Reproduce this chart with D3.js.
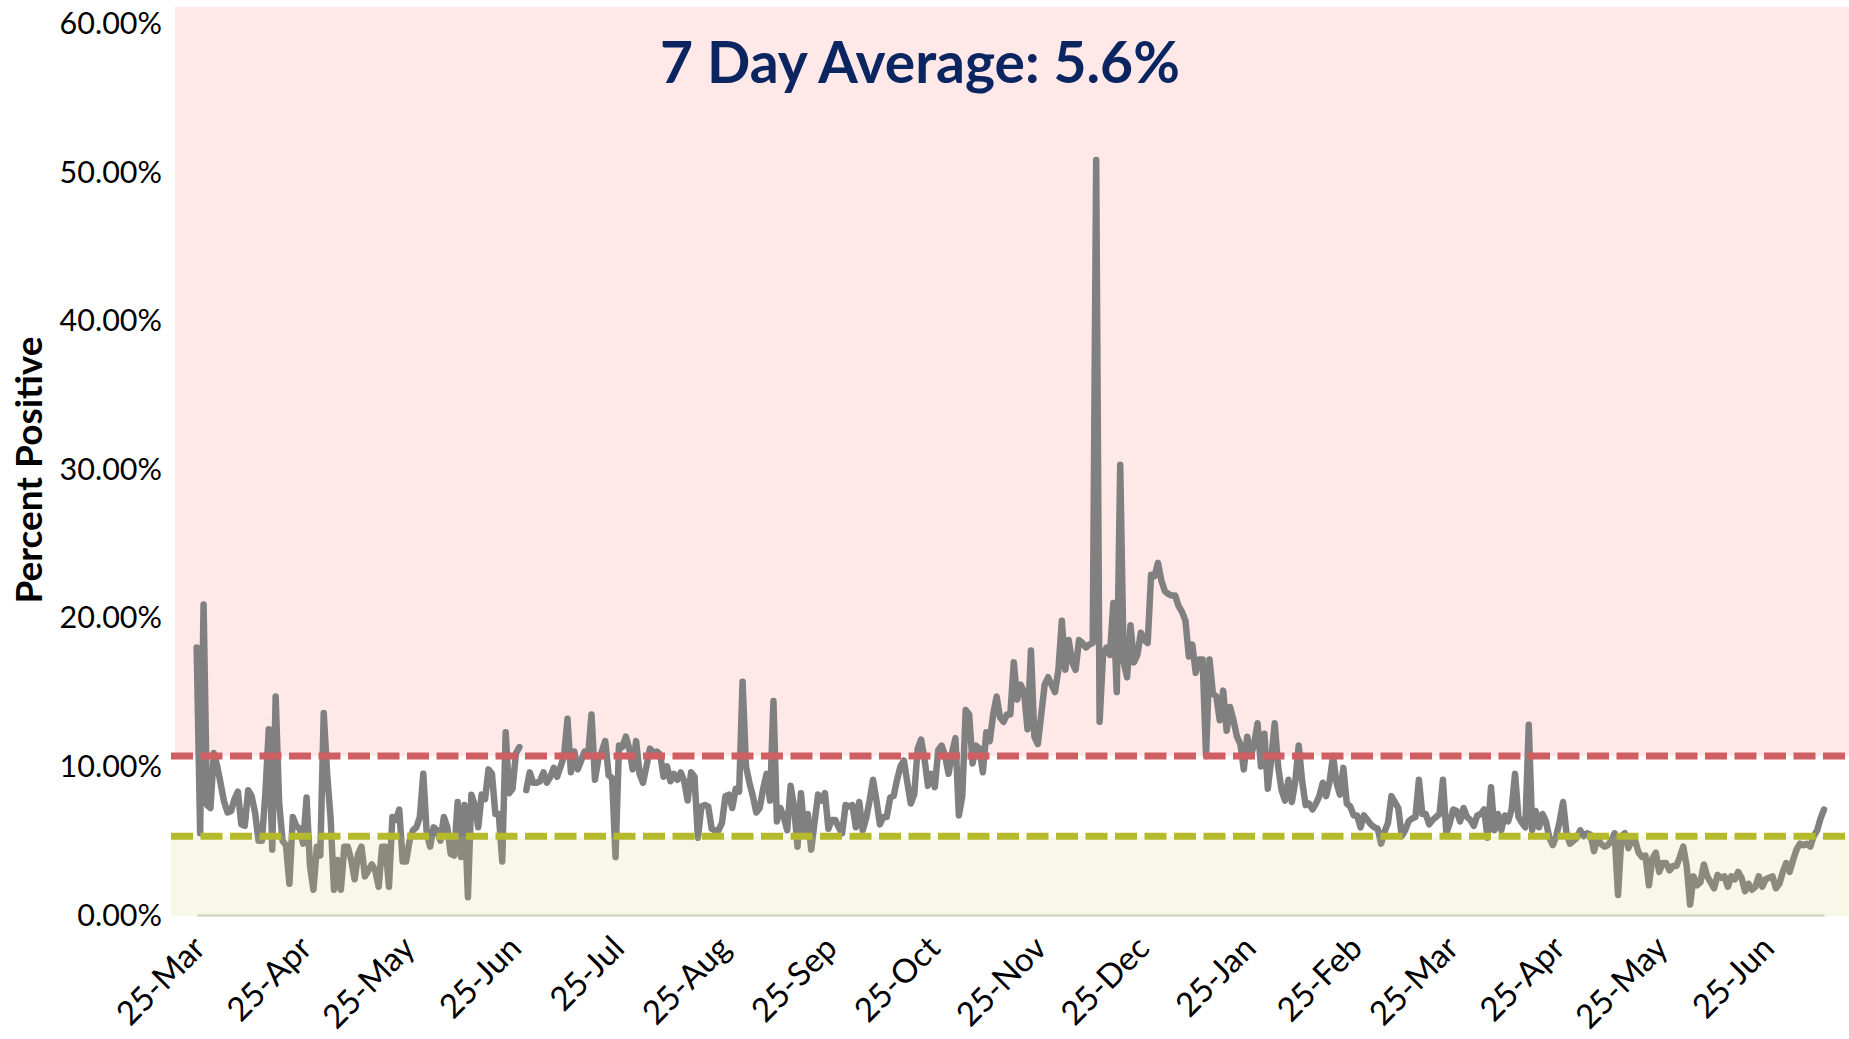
<!DOCTYPE html>
<html>
<head>
<meta charset="utf-8">
<script src="https://cdn.jsdelivr.net/npm/d3@7"></script>
<style>
  body { margin: 0; background: #fff; }
  svg { display: block; }
  text { font-family: Lato, "Open Sans", sans-serif; }
</style>
</head>
<body>
<div id="chart"></div>
<script>
// Chart values
const titleText = "7 Day Average: 5.6%";
const yTicks = [0, 10, 20, 30, 40, 50, 60];
const upperLimit = 10.7;   // red dashed line
const lowerLimit = 5.3;    // green dashed line
const alertTop = 61.1;     // top of pink band
const goodBottom = -0.1;   // bottom of green band
const tickDates = ["2020-03-25", "2020-04-25", "2020-05-25", "2020-06-25", "2020-07-25",
    "2020-08-25", "2020-09-25", "2020-10-25", "2020-11-25", "2020-12-25", "2021-01-25",
    "2021-02-25", "2021-03-25", "2021-04-25", "2021-05-25", "2021-06-25"];
const firstDay = "2020-03-25";

// daily percent positive, 25 Mar 2020 - 31 Dec 2020 (null = no report)
const rate2020 = [
    18.0, 5.5, 20.9, 7.4, 7.2, 10.9, 10.0, 8.8, 7.6, 6.9,
    7.0, 7.8, 8.3, 6.1, 6.0, 8.4, 8.0, 6.9, 5.0, 5.0,
    8.2, 12.5, 4.4, 14.7, 7.6, 5.0, 4.7, 2.1, 6.6, 6.0,
    5.8, 4.8, 7.9, 3.3, 1.7, 4.6, 4.0, 13.6, 9.5, 6.5,
    1.7, 3.7, 1.7, 4.6, 4.6, 3.7, 2.4, 4.1, 4.6, 2.6,
    3.0, 3.4, 3.0, 1.9, 4.6, 4.6, 1.9, 6.6, 6.4, 7.1,
    3.6, 3.6, 5.0, 5.7, 5.9, 6.6, 9.5, 5.5, 4.6, 5.9,
    5.7, 5.0, 6.6, 5.9, 4.1, 4.0, 7.6, 3.9, 7.4, 1.2,
    8.1, 7.4, 5.9, 8.1, 7.8, 9.8, 9.5, 6.8, 6.8, 3.6,
    12.3, 8.2, 8.5, 10.9, 11.3, null, 8.4, 9.6, 8.9, 8.9,
    9.0, 9.6, 8.9, 9.3, 9.9, 9.3, 10.0, 10.7, 13.2, 9.6,
    11.0, 9.8, 10.4, 11.0, 10.7, 13.5, 9.1, 10.5, 11.0, 11.7,
    9.4, 9.2, 3.9, 11.4, 11.3, 12.0, 11.2, 9.8, 11.7, 9.5,
    8.9, 10.0, 11.2, 10.9, 11.0, 10.8, 9.3, 10.0, 9.0, 9.5,
    9.1, 9.6, 9.0, 7.7, 9.6, 9.3, 5.2, 7.3, 7.4, 7.3,
    5.8, 5.7, 5.7, 6.2, 8.0, 8.1, 7.2, 8.5, 8.3, 15.7,
    10.0, 8.9, 8.0, 6.9, 7.2, 8.5, 9.5, 7.7, 14.4, 6.3,
    7.2, 6.6, 5.7, 8.7, 7.3, 4.6, 8.2, 5.7, 6.8, 4.4,
    6.3, 8.1, 7.7, 8.2, 5.8, 6.4, 6.4, 5.9, 5.5, 7.4,
    7.3, 7.4, 5.9, 7.6, 5.7, 6.5, 7.7, 9.1, 7.7, 6.1,
    6.6, 6.6, 7.9, 8.0, 9.1, 10.0, 10.4, 8.9, 7.5, 8.1,
    11.2, 11.8, 10.5, 8.7, 9.5, 8.6, 11.1, 11.4, 10.7, 9.5,
    10.9, 11.9, 6.7, 8.0, 13.8, 13.5, 10.2, 11.4, 11.2, 9.6,
    12.3, 11.7, 13.5, 14.7, 13.3, 13.0, 13.5, 13.5, 17.0, 14.5,
    15.5, 15.0, 12.5, 17.8, 12.0, 11.5, 13.5, 15.5, 16.0, 15.5,
    15.0, 16.5, 19.8, 16.5, 18.5, 17.0, 16.5, 18.5, 18.3, 18.0,
    18.2, 18.3, 50.8, 13.0, 17.5, 18.0, 17.5, 21.0, 15.0, 30.3,
    17.0, 16.0, 19.5, 17.0, 17.5, 19.0, 18.5, 18.3, 22.9, 22.8,
    23.7, 22.5
];

// daily percent positive, 1 Jan 2021 - 12 Jul 2021
const rate2021 = [
    21.8, 21.6, 21.5, 21.5, 20.8, 20.4, 19.8, 17.4,
    18.2, 16.3, 17.2, 17.2, 10.7, 17.2, 14.9, 14.7, 13.1, 15.1,
    12.4, 14.0, 13.1, 12.0, 11.5, 9.8, 12.0, 10.7, 11.5, 12.9,
    10.0, 12.2, 8.5, 10.5, 12.9, 10.0, 8.4, 7.7, 9.1, 7.6,
    9.0, 11.4, 9.0, 7.4, 7.5, 7.1, 7.5, 8.0, 8.9, 8.0,
    9.0, 10.7, 8.9, 8.1, 9.9, 7.5, 7.3, 6.7, 6.7, 5.9,
    6.7, 6.4, 6.1, 5.9, 5.8, 4.8, 5.6, 6.2, 8.0, 7.6,
    7.2, 5.3, 5.7, 6.3, 6.5, 6.6, 9.1, 6.8, 6.8, 6.1,
    6.4, 6.6, 6.8, 9.1, 5.5, 6.2, 7.1, 7.0, 6.3, 7.2,
    6.6, 6.4, 6.0, 6.7, 6.8, 7.1, 5.2, 8.6, 5.7, 6.8,
    5.7, 6.7, 6.3, 7.1, 9.5, 6.6, 6.2, 5.9, 12.8, 5.7,
    7.0, 5.9, 6.8, 6.3, 5.2, 4.7, 5.3, 6.3, 7.6, 5.5,
    4.8, 5.0, 5.2, 5.7, 5.3, 5.5, 5.4, 4.3, 5.2, 4.8,
    4.6, 4.7, 5.0, 5.5, 1.35, 5.3, 5.5, 4.5, 5.0, 5.0,
    4.2, 3.9, 4.0, 2.0, 3.8, 4.2, 2.9, 3.5, 3.5, 3.0,
    3.3, 3.3, 3.9, 4.6, 3.3, 0.7, 2.6, 2.0, 2.2, 3.4,
    2.6, 2.2, 1.8, 2.7, 2.5, 2.6, 1.9, 2.6, 2.4, 2.9,
    2.5, 1.6, 2.1, 1.7, 1.9, 2.6, 1.9, 2.4, 2.5, 2.6,
    1.8, 2.1, 2.9, 3.5, 2.9, 3.7, 4.4, 4.8, 4.7, 4.8,
    4.6, 5.3, 5.7, 6.5, 7.1
];

const width = 1849;
const height = 1039;
const plotLeft = 171;      // where the bands and dashed lines begin
const lineLeft = 196.7;    // first day
const lineRight = 1824;    // last day

const parseDay = d3.timeParse("%Y-%m-%d");
const start = parseDay(firstDay);

// Build the daily series
const series = rate2020.concat(rate2021).map((v, i) => ({
    date: d3.timeDay.offset(start, i),
    value: v
}));

const x = d3.scaleTime()
    .domain(d3.extent(series, d => d.date))
    .range([lineLeft, lineRight]);

const y = d3.scaleLinear()
    .domain([0, 60])
    .range([915, 23.4]);

const svg = d3.select("#chart").append("svg")
    .attr("width", width)
    .attr("height", height)
    .attr("viewBox", [0, 0, width, height]);

// Pink "above limit" band (under the line)
svg.append("rect")
    .attr("x", 175)
    .attr("y", y(alertTop))
    .attr("width", width - 175)
    .attr("height", y(upperLimit) - y(alertTop))
    .attr("fill", "#ffe8e8");

// X axis line
const xAxis = d3.axisBottom(x)
    .tickValues(tickDates.map(parseDay))
    .tickFormat(d3.timeFormat("%d-%b"))
    .tickSize(0)
    .tickSizeOuter(0);

const gx = svg.append("g")
    .attr("transform", `translate(0,${y(0)})`)
    .call(xAxis);

gx.select(".domain")
    .attr("stroke", "#d9d9d9")
    .attr("stroke-width", 2.5);

gx.selectAll(".tick text")
    .attr("fill", "#000")
    .attr("font-size", 33)
    .attr("text-anchor", "end")
    .attr("x", 0)
    .attr("y", 0)
    .attr("dy", "0.35em")
    .attr("transform", "translate(2,27) rotate(-45)");

// Data line
const line = d3.line()
    .defined(d => d.value !== null)
    .x(d => x(d.date))
    .y(d => y(d.value));

svg.append("path")
    .datum(series)
    .attr("fill", "none")
    .attr("stroke", "#808080")
    .attr("stroke-width", 6.5)
    .attr("stroke-linejoin", "round")
    .attr("stroke-linecap", "round")
    .attr("d", line);

// Green "below target" band, drawn over the line
svg.append("rect")
    .attr("x", plotLeft)
    .attr("y", y(lowerLimit))
    .attr("width", width - plotLeft)
    .attr("height", y(goodBottom) - y(lowerLimit))
    .attr("fill", "rgb(199,206,93)")
    .attr("fill-opacity", 0.14);

// Dashed limit lines
[[upperLimit, "#d05f64"], [lowerLimit, "#b5ba2c"]].forEach(([v, c]) => {
    svg.append("line")
        .attr("x1", plotLeft)
        .attr("x2", width)
        .attr("y1", y(v))
        .attr("y2", y(v))
        .attr("stroke", c)
        .attr("stroke-width", 7)
        .attr("stroke-dasharray", "22 7.5");
});

// Y tick labels
svg.append("g")
    .selectAll("text")
    .data(yTicks)
    .join("text")
    .attr("x", 162)
    .attr("y", d => y(d))
    .attr("dy", "0.35em")
    .attr("text-anchor", "end")
    .attr("font-size", 30.5)
    .attr("fill", "#000")
    .text(d => d3.format(".2%")(d / 100));

// Y axis title
svg.append("text")
    .attr("transform", "translate(29,470) rotate(-90)")
    .attr("dy", "0.35em")
    .attr("text-anchor", "middle")
    .attr("font-size", 37)
    .attr("font-weight", "bold")
    .attr("fill", "#000")
    .text("Percent Positive");

// Title
svg.append("text")
    .attr("x", 920)
    .attr("y", 83)
    .attr("text-anchor", "middle")
    .attr("font-size", 57)
    .attr("font-weight", "bold")
    .attr("fill", "#0b2561")
    .text(titleText);
</script>
</body>
</html>
